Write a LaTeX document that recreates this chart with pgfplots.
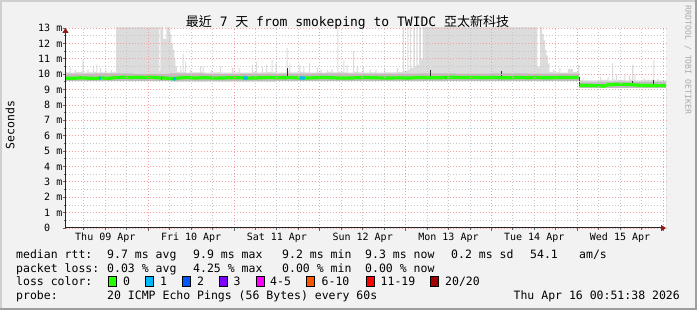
\documentclass[border=0pt]{standalone}
\usepackage{pgfplots}
\pgfplotsset{compat=1.18}
\usepackage{pgfplotstable}
\usepackage{fontspec}
\setmainfont{DejaVu Sans Mono}
\newfontfamily\cjk{Noto Sans CJK TC}
\usetikzlibrary{arrows.meta}
\definecolor{bgc}{HTML}{F2F2F2}
\definecolor{shadeA}{HTML}{CFCFCF}
\definecolor{shadeB}{HTML}{9E9E9E}
\definecolor{gridmaj}{HTML}{F4A0A0}
\definecolor{gridmin}{HTML}{C8C8C8}
\definecolor{arrowc}{HTML}{8B1A1A}
\definecolor{smokeA}{HTML}{DCDCDC}
\definecolor{smokeB}{HTML}{BDBDBD}
\definecolor{wmc}{HTML}{AAAAAA}
\definecolor{c0}{HTML}{26FF00}
\definecolor{c1}{HTML}{00B8FF}
\definecolor{c2}{HTML}{0059FF}
\definecolor{c3}{HTML}{7E00FF}
\definecolor{c4}{HTML}{FF00FF}
\definecolor{c6}{HTML}{FF5500}
\definecolor{c11}{HTML}{FF0000}
\definecolor{c20}{HTML}{A10000}
\newcommand\lgfont{\fontsize{11.5}{13}\selectfont}
\newcommand\axfont{\fontsize{10}{12}\selectfont}
\newcommand\ttlfont{\fontsize{13}{15}\selectfont}
\newcommand\wmfont{\fontsize{8.2}{10}\selectfont}

% hours since Thu 09 Apr 00:00, value in ms
\pgfplotstableread[row sep=\\]{
h y\\
0.86 10.12\\ 2.0 10.4\\ 2.3 10.1\\ 3.5 10.3\\ 3.8 10.14\\ 5.6 10.9\\ 5.9 10.1\\
7.0 10.3\\ 7.3 10.12\\ 8.5 10.5\\ 8.8 10.15\\ 9.5 10.6\\ 9.8 10.1\\ 10.5 10.4\\
10.8 10.12\\ 12.0 10.3\\ 12.3 10.1\\ 13.5 10.25\\ 13.8 10.12\\ 15.0 13.5\\
27.1 10.2\\ 27.4 13.5\\ 28.2 12.3\\ 29.1 13.5\\ 30.1 12.6\\ 30.5 12.0\\ 30.9 11.6\\
31.3 11.0\\ 31.6 10.5\\ 32.0 10.15\\ 33.0 10.5\\ 33.3 10.12\\ 33.6 11.3\\ 33.9 10.15\\
34.3 10.8\\ 34.6 10.1\\ 35.7 10.3\\ 36.0 10.12\\ 38.5 10.5\\ 38.8 10.15\\ 39.2 10.5\\
39.5 10.1\\ 41.5 10.3\\ 41.8 10.12\\ 44.1 10.5\\ 44.4 10.1\\ 47.5 10.4\\ 47.8 10.12\\
49.3 10.4\\ 49.6 10.1\\ 53.0 10.6\\ 53.3 10.15\\ 54.2 10.8\\ 54.5 10.1\\ 55.8 10.5\\
56.1 10.12\\ 57.0 10.6\\ 57.3 10.15\\ 58.5 10.9\\ 58.8 10.12\\ 59.6 10.7\\ 59.9 10.1\\
62.7 11.7\\ 63.0 10.2\\ 63.5 10.7\\ 63.8 10.12\\ 66.3 10.6\\ 66.6 10.15\\ 67.4 10.5\\
67.7 10.12\\ 69.0 10.7\\ 69.3 10.1\\ 71.2 10.4\\ 71.5 10.12\\ 72.2 10.3\\ 72.5 10.1\\
74.0 10.3\\ 74.3 10.15\\ 75.2 10.3\\ 75.5 10.12\\ 76.9 13.5\\ 77.2 10.15\\ 78.6 10.9\\
78.9 10.12\\ 79.5 10.6\\ 79.8 10.1\\ 81.3 11.5\\ 81.6 10.15\\ 82.4 10.5\\ 82.7 10.12\\
84.0 10.5\\ 84.3 10.1\\ 86.0 10.3\\ 86.3 10.12\\ 87.6 10.3\\ 87.9 10.1\\ 90.0 10.4\\
90.3 10.12\\ 93.6 10.4\\ 93.9 10.15\\ 95.2 13.5\\ 95.5 10.2\\ 96.5 13.5\\ 96.8 10.3\\
97.2 13.5\\ 97.5 10.4\\ 98.2 13.5\\ 98.6 10.5\\ 99.0 13.5\\ 99.4 10.6\\ 99.8 13.5\\
100.3 11.0\\ 100.8 13.5\\ 132.9 10.5\\ 133.6 13.5\\ 134.2 12.6\\ 134.6 12.2\\
135.0 11.6\\ 135.4 11.2\\ 135.8 10.7\\ 136.2 10.15\\ 137.3 10.3\\ 137.6 10.12\\
139.0 10.4\\ 139.3 10.1\\ 141.5 10.35\\ 142.8 10.15\\ 144.3 10.6\\ 144.6 9.62\\
145.5 9.7\\ 145.8 9.6\\ 150.4 9.8\\ 150.7 9.62\\ 152.5 9.8\\ 152.8 9.6\\ 153.8 10.7\\
154.1 9.65\\ 154.9 10.0\\ 155.2 9.62\\ 157.2 10.0\\ 157.5 9.6\\ 158.5 9.9\\ 158.8 9.65\\
159.4 10.6\\ 159.7 9.62\\ 160.0 10.0\\ 160.3 9.6\\ 162.6 9.75\\ 162.9 9.62\\
165.3 10.9\\ 165.6 9.6\\ 166.5 9.7\\ 166.8 9.6\\ 168.86 9.6\\
}\smokehi

\pgfplotstableread[row sep=\\]{
h y\\
0.86 10.03\\ 10 10.05\\ 20 10.02\\ 30 10.05\\ 40 10.02\\ 50 10.04\\ 60 10.03\\
70 10.05\\ 80 10.03\\ 90 10.04\\ 100 10.05\\ 110 10.03\\ 120 10.05\\ 130 10.04\\
144.5 9.47\\ 150 9.5\\ 155 9.52\\ 160 9.49\\ 168.86 9.5\\
}\smokemid

\pgfplotstableread[row sep=\\]{
h y\\
0.86 9.54\\ 30 9.53\\ 60 9.55\\ 90 9.54\\ 120 9.55\\ 144.5 9.09\\ 168.86 9.09\\
}\smokelo

\pgfplotstableread[row sep=\\]{
h y\\
0.86 9.74\\ 3 9.73\\ 5 9.76\\ 7 9.74\\ 9 9.72\\ 11 9.75\\ 13 9.73\\ 15 9.78\\
17 9.80\\ 19 9.78\\ 21 9.80\\ 23 9.78\\ 25 9.80\\ 27 9.76\\ 29 9.74\\ 31 9.70\\
33 9.76\\ 35 9.78\\ 37 9.75\\ 40 9.77\\ 43 9.74\\ 46 9.76\\ 49 9.77\\ 52 9.74\\
55 9.76\\ 58 9.78\\ 61 9.76\\ 64 9.78\\ 67 9.74\\ 70 9.76\\ 73 9.79\\ 76 9.76\\
79 9.74\\ 82 9.76\\ 85 9.78\\ 88 9.76\\ 91 9.75\\ 94 9.76\\ 97 9.75\\ 100 9.78\\
103 9.76\\ 106 9.77\\ 109 9.80\\ 112 9.78\\ 115 9.79\\ 118 9.77\\ 121 9.78\\
124 9.76\\ 127 9.78\\ 130 9.77\\ 133 9.78\\ 136 9.76\\ 139 9.78\\ 142 9.79\\ 144.4 9.78\\
}\medA

\pgfplotstableread[row sep=\\]{
h y\\
144.7 9.28\\ 147 9.26\\ 150 9.25\\ 151.5 9.22\\ 152.5 9.30\\ 155 9.34\\ 158 9.33\\
160 9.30\\ 162 9.27\\ 165 9.26\\ 168.86 9.25\\
}\medB

\begin{document}
\begin{tikzpicture}[x=1pt,y=1pt]
\useasboundingbox (0,0) rectangle (697,310);
\fill[bgc] (0,0) rectangle (697,310);
\fill[shadeA] (0,0) rectangle (2,310);
\fill[shadeA] (0,308) rectangle (697,310);
\fill[shadeB] (695,0) rectangle (697,310);
\fill[shadeB] (0,0) rectangle (697,2);

\begin{axis}[
  at={(65.5pt,82pt)}, anchor=south west,
  scale only axis, width=600.5pt, height=200pt,
  xmin=0.86, xmax=168.86, ymin=0, ymax=13,
  axis background/.style={fill=white},
  axis on top,
  axis x line*=bottom, axis y line*=left,
  x axis line style={draw=black!85, line width=1pt, -{Triangle[length=5pt,width=6pt,color=arrowc]}},
  y axis line style={draw=black!85, line width=1pt, -{Triangle[length=5pt,width=6pt,color=arrowc]}},
  xtick={24,48,72,96,120,144,168},
  xticklabels={},
  minor xtick={6,12,18,30,36,42,54,60,66,78,84,90,102,108,114,126,132,138,150,156,162},
  extra x ticks={12,36,60,84,108,132,156},
  extra x tick labels={Thu 09 Apr,Fri 10 Apr,Sat 11 Apr,Sun 12 Apr,Mon 13 Apr,Tue 14 Apr,Wed 15 Apr},
  extra x tick style={grid=none, major tick length=0pt, xticklabel style={anchor=base, yshift=-13pt}},
  ytick={0,1,...,13},
  yticklabels={0\hphantom{\ m},1 m,2 m,3 m,4 m,5 m,6 m,7 m,8 m,9 m,10 m,11 m,12 m,13 m},
  minor ytick={0.5,1.5,...,12.5},
  tick label style={font=\axfont},
  yticklabel style={anchor=east, inner sep=0pt},
  grid=both,
  major grid style={draw=gridmaj, dash pattern=on 1pt off 2pt, line width=0.8pt},
  minor grid style={draw=gridmin, dash pattern=on 1pt off 2pt, line width=0.8pt},
  tick align=outside,
  major tick length=3pt, minor tick length=2pt,
  tick style={draw=black!60, line width=0.8pt},
]
\addplot[const plot, fill=smokeA, draw=none] table {\smokehi} \closedcycle;
\addplot[const plot, fill=smokeB, draw=none] table {\smokemid} \closedcycle;
\addplot[const plot, fill=white, draw=none] table {\smokelo} \closedcycle;
\addplot[black!80, line width=1pt] coordinates {(14.8,9.72) (14.8,9.82)};
\addplot[black!80, line width=1pt] coordinates {(62.9,9.8) (62.9,10.4)};
\addplot[black!80, line width=1pt] coordinates {(103.1,9.75) (103.1,10.3)};
\addplot[black!80, line width=1pt] coordinates {(122.9,9.75) (122.9,10.2)};
\addplot[black!80, line width=1pt] coordinates {(151.2,9.2) (151.2,9.35)};
\addplot[black!80, line width=1pt] coordinates {(159.5,9.3) (159.5,9.55)};
\addplot[black!80, line width=1pt] coordinates {(165.4,9.3) (165.4,9.6)};
\addplot[black!75, line width=1pt] coordinates {(144.55,9.8) (144.55,9.25)};
\addplot[c0, line width=3.2pt] table {\medA};
\addplot[c0, line width=3.2pt] table {\medB};
\addplot[c1, line width=3.2pt] coordinates {(10.3,9.74) (10.7,9.75)};
\addplot[c1, line width=3.2pt] coordinates {(27.6,9.75) (27.9,9.75)};
\addplot[c1, line width=3.2pt] coordinates {(31.0,9.68) (31.8,9.7)};
\addplot[c1, line width=3.2pt] coordinates {(50.6,9.76) (51.8,9.75)};
\addplot[c1, line width=3.2pt] coordinates {(66.5,9.75) (67.8,9.74)};
\addplot[c1, line width=3.2pt] coordinates {(107.1,9.77) (107.4,9.77)};
\end{axis}

% title, axis label, watermark
\node[anchor=base, font=\ttlfont, inner sep=0pt] at (347.5,283.3) {{\cjk 最近} 7 {\cjk 天} from smokeping to TWIDC {\cjk 亞太新科技}};
\node[rotate=90, font=\lgfont, inner sep=0pt] at (10,185) {Seconds};
\node[rotate=-90, font=\wmfont, text=wmc, inner sep=0pt] at (688,250) {RRDTOOL / TOBI OETIKER};

% legend lines
\begin{scope}[every node/.style={anchor=base west, font=\lgfont, inner sep=0pt}]
\node at (16,51.7) {median rtt:};
\node at (107,51.7) {9.7 ms avg};
\node at (193,51.7) {9.9 ms max};
\node at (282,51.7) {9.2 ms min};
\node at (365,51.7) {9.3 ms now};
\node at (451,51.7) {0.2 ms sd};
\node at (530,51.7) {54.1};
\node at (579,51.7) {am/s};
\node at (16,37.7) {packet loss:};
\node at (107,37.7) {0.03 \% avg};
\node at (193,37.7) {4.25 \% max};
\node at (282,37.7) {0.00 \% min};
\node at (365,37.7) {0.00 \% now};
\node at (16,24) {loss color:};
\node at (123,24) {0};
\node at (160,24) {1};
\node at (197,24) {2};
\node at (233.5,24) {3};
\node at (270,24) {4-5};
\node at (321.5,24) {6-10};
\node at (380.5,24) {11-19};
\node at (445,24) {20/20};
\node at (16,10) {probe:};
\node at (107,10) {20 ICMP Echo Pings (56 Bytes) every 60s};
\node[anchor=base east] at (680,10) {Thu Apr 16 00:51:38 2026};
\end{scope}
\begin{scope}[line width=0.8pt]
\filldraw[fill=c0, draw=black] (108.5,23.5) rectangle (116.5,33.5);
\filldraw[fill=c1, draw=black] (145.5,23.5) rectangle (153.5,33.5);
\filldraw[fill=c2, draw=black] (182.5,23.5) rectangle (190.5,33.5);
\filldraw[fill=c3, draw=black] (219.5,23.5) rectangle (227.5,33.5);
\filldraw[fill=c4, draw=black] (256.5,23.5) rectangle (264.5,33.5);
\filldraw[fill=c6, draw=black] (306.5,23.5) rectangle (314.5,33.5);
\filldraw[fill=c11, draw=black] (366,23.5) rectangle (374,33.5);
\filldraw[fill=c20, draw=black] (430.5,23.5) rectangle (438.5,33.5);
\end{scope}
\end{tikzpicture}
\end{document}
